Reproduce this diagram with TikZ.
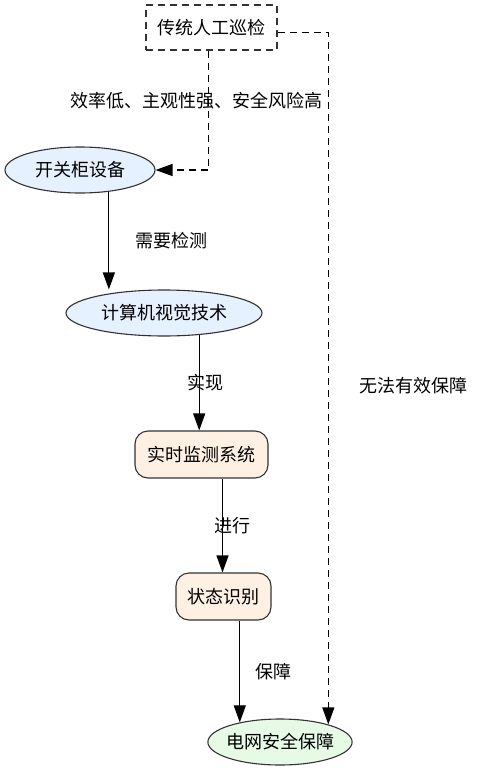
\documentclass[tikz,border=0pt]{standalone}
\usepackage{fontspec}
\setmainfont{Noto Sans CJK SC}
\usepackage{tikz}
\usetikzlibrary{arrows.meta,shapes.geometric}

\definecolor{nodeblue}{HTML}{E6F1FF}
\definecolor{nodeorange}{HTML}{FEF1E4}
\definecolor{nodegreen}{HTML}{E6FAE6}
\definecolor{edgegray}{HTML}{333333}

\begin{document}
\begin{tikzpicture}[
    x=1pt, y=-1pt,
    oval/.style={draw=edgegray, ellipse, inner sep=0pt, minimum height=46pt, line width=1.1pt, font=\fontsize{18}{20}\selectfont},
    roundbox/.style={draw=edgegray, rounded corners=13pt, inner sep=0pt, minimum height=47pt, line width=1.1pt, fill=nodeorange, font=\fontsize{18}{20}\selectfont},
    dashbox/.style={draw=edgegray, dash pattern=on 7pt off 5pt, inner sep=0pt, minimum width=131pt, minimum height=45pt, line width=1.1pt, font=\fontsize{18}{20}\selectfont},
    arrow/.style={-{Triangle[length=17pt, width=12pt]}, line width=1.2pt},
    dasharrow/.style={-{Triangle[length=17pt, width=12pt]}, line width=1.2pt, dash pattern=on 7pt off 5pt},
    lab/.style={inner sep=0pt, font=\fontsize{18}{20}\selectfont}
  ]
    \useasboundingbox (0,0) rectangle (477,768);

    \node[dashbox] (manual) at (211.5,27.5) {传统人工巡检};
    \node[oval, fill=nodeblue, minimum width=150pt] (switch) at (80,170) {开关柜设备};
    \node[oval, fill=nodeblue, minimum width=196pt] (vision) at (164,313) {计算机视觉技术};
    \node[roundbox, minimum width=133pt] (monitor) at (201.5,454.5) {实时监测系统};
    \node[roundbox, minimum width=95pt] (state) at (223.5,596.5) {状态识别};
    \node[oval, fill=nodegreen, minimum width=144pt, inner xsep=-3pt] (grid) at (280,742) {电网安全保障};

    \draw[dasharrow] ([xshift=-3pt]manual.south) |- node[lab, pos=0.21, xshift=-12.5]{效率低、主观性强、安全风险高} (switch.east);
    \draw[dasharrow] ([yshift=-5pt]manual.east) -| node[lab, pos=0.755, xshift=85]{无法有效保障} (grid.20);
    \draw[arrow] (switch.-37) -- node[lab, xshift=63]{需要检测} (switch.-37 |- vision.north);
    \draw[arrow] (vision.-32) -- node[lab, xshift=6]{实现} (vision.-32 |- monitor.north);
    \draw[arrow] ([xshift=-1pt]state.north |- monitor.south) -- node[lab, xshift=9.5]{进行} ([xshift=-1pt]state.north);
    \draw[arrow] (state.south -| grid.154) -- node[lab, xshift=34]{保障} (grid.154);
  \end{tikzpicture}
\end{document}
